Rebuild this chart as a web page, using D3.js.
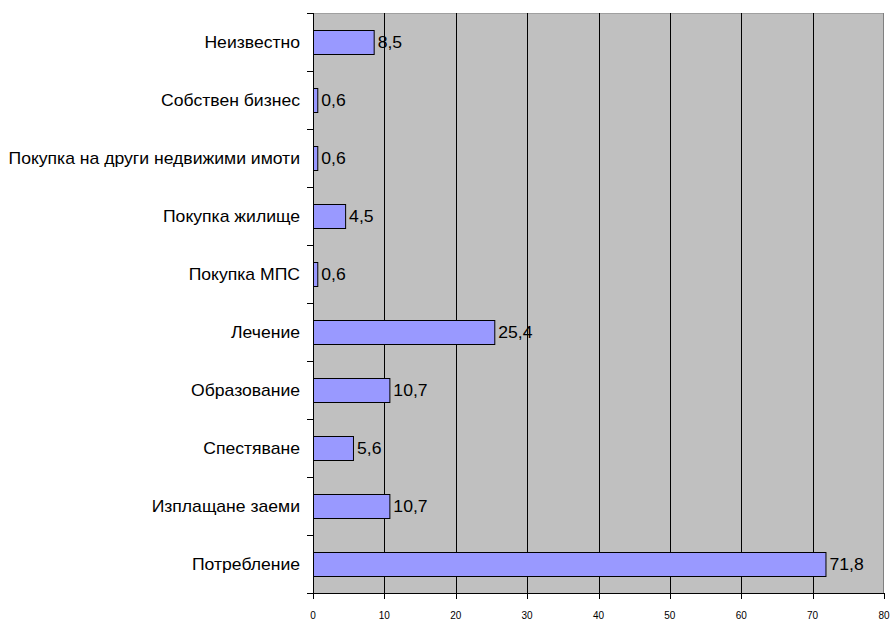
<!DOCTYPE html>
<html><head><meta charset="utf-8">
<script src="https://cdn.jsdelivr.net/npm/d3@7"></script>
<style>body{margin:0;background:#fff;} svg{display:block;font-family:Arial,"Liberation Sans",sans-serif;}</style>
</head><body><svg id="c" width="891" height="619"></svg>
<script>
const categories = ["Неизвестно","Собствен бизнес","Покупка на други недвижими имоти","Покупка жилище","Покупка МПС","Лечение","Образование","Спестяване","Изплащане заеми","Потребление"];
const values = [8.5,0.6,0.6,4.5,0.6,25.4,10.7,5.6,10.7,71.8];
const xTicks = [0,10,20,30,40,50,60,70,80];

const svg = d3.select("#c");
const L = 313, R = 884, T = 13, B = 593;
const SX = 1.1;
const x = d3.scaleLinear().domain([0,80]).range([L,R]);
const y = d3.scaleBand().domain(categories).range([T,B]).paddingInner(0.59).paddingOuter(0.295);
const yb = d3.scaleBand().domain(categories).range([T,B]);

svg.append("rect").attr("x",L).attr("y",T).attr("width",R-L).attr("height",B-T).attr("fill","#C0C0C0");
svg.append("line").attr("x1",L).attr("x2",R).attr("y1",T+0.5).attr("y2",T+0.5).attr("stroke","#a0a0a0");
svg.append("line").attr("x1",R-0.5).attr("x2",R-0.5).attr("y1",T).attr("y2",B).attr("stroke","#808080");
svg.append("g").selectAll("line").data(xTicks.slice(1,-1)).join("line")
  .attr("x1",d=>Math.round(x(d))+0.5).attr("x2",d=>Math.round(x(d))+0.5)
  .attr("y1",T).attr("y2",B).attr("stroke","#000");
svg.append("g").selectAll("rect").data(categories).join("rect")
  .attr("x",L+0.5).attr("y",d=>Math.round(y(d))+0.5)
  .attr("width",(d,i)=>x(values[i])-L).attr("height",Math.round(y.bandwidth()))
  .attr("fill","#9999FF").attr("stroke","#000").attr("stroke-width",1);
svg.append("g").selectAll("text").data(categories).join("text")
  .attr("transform",(d,i)=>`translate(${x(values[i])+4},${y(d)+y.bandwidth()/2}) scale(${SX},1)`)
  .attr("dy","0.38em").attr("font-size",16).attr("fill","#000")
  .text((d,i)=>String(values[i]).replace(".",","));
const ya = svg.append("g");
ya.append("line").attr("x1",L+0.5).attr("x2",L+0.5).attr("y1",T).attr("y2",B).attr("stroke","#000");
const bounds = categories.map(c=>yb(c)).concat([B]);
ya.selectAll("line.t").data(bounds).join("line").attr("class","t")
  .attr("x1",307).attr("x2",L).attr("y1",d=>Math.round(d)+0.5).attr("y2",d=>Math.round(d)+0.5).attr("stroke","#000");
ya.selectAll("text").data(categories).join("text")
  .attr("transform",d=>`translate(300,${yb(d)+yb.bandwidth()/2}) scale(${SX},1)`).attr("dy","0.38em")
  .attr("text-anchor","end").attr("font-size",16).attr("fill","#000").text(d=>d);
const xa = svg.append("g");
xa.append("line").attr("x1",307).attr("x2",R).attr("y1",B+0.5).attr("y2",B+0.5).attr("stroke","#000");
xa.selectAll("line.t").data(xTicks).join("line").attr("class","t")
  .attr("x1",d=>Math.round(x(d))+0.5).attr("x2",d=>Math.round(x(d))+0.5).attr("y1",B).attr("y2",B+6).attr("stroke","#000");
xa.selectAll("text").data(xTicks).join("text")
  .attr("x",d=>x(d)).attr("y",615).attr("dy","0.35em").attr("text-anchor","middle")
  .attr("font-size",10).attr("fill","#000").text(d=>d);
</script></body></html>
